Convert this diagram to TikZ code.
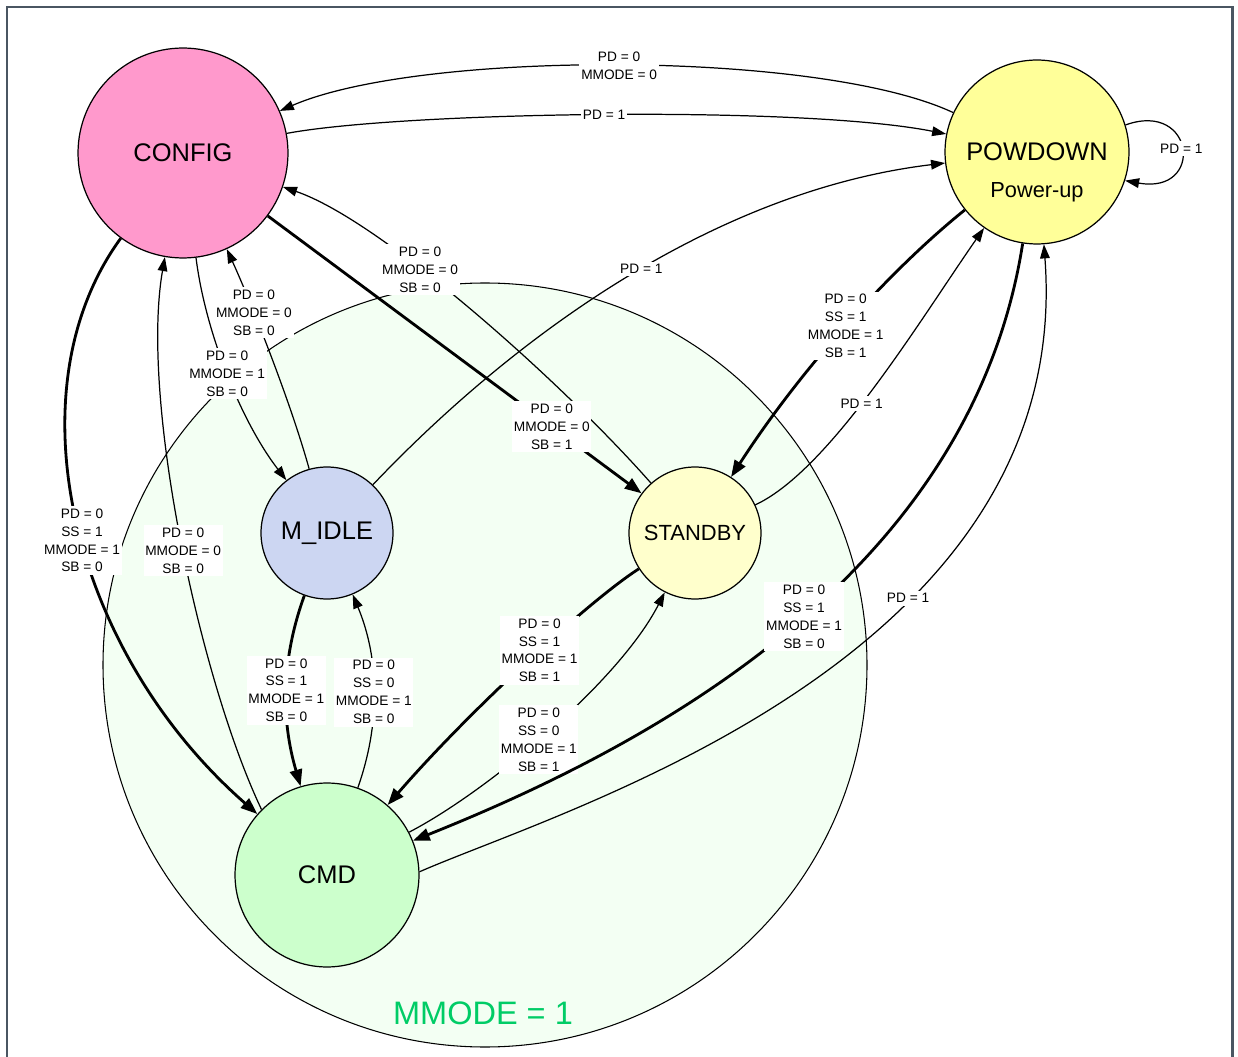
\documentclass[tikz,border=0pt]{standalone}
\usepackage{fontspec}
\setmainfont{Liberation Sans}
\usetikzlibrary{arrows.meta}
\definecolor{cfgpink}{RGB}{255,153,204}
\definecolor{pdyellow}{RGB}{255,255,153}
\definecolor{sbyellow}{RGB}{255,255,204}
\definecolor{idleblue}{RGB}{204,214,242}
\definecolor{cmdgreen}{RGB}{204,255,204}
\definecolor{mmfill}{RGB}{243,255,243}
\definecolor{mmtext}{RGB}{0,204,102}
\definecolor{framegray}{RGB}{74,86,98}
\tikzset{st/.style = {draw, circle, line width = 0.7pt, inner sep = 0, font = \fontsize{14.5}{16}\selectfont}}
\tikzset{lbl/.style = {fill = white, inner xsep = 1pt, inner ysep = 1.5pt, align = center, font = \fontsize{7.8}{10.2}\selectfont}}
\tikzset{tr/.style = {line width = 0.7pt, -{Triangle[length = 8pt, width = 5.5pt]}}}
\tikzset{trthick/.style = {line width = 1.6pt, -{Triangle[length = 9.5pt, width = 7pt]}}}

\begin{document}
\begin{tikzpicture}[x = 0.02cm, y = -0.02cm]
      \useasboundingbox (0, 0) rectangle (1238, 1057);
      \draw [framegray, line width = 1.7pt] (7, 1057) -- (7, 7) -- (1232, 7) -- (1232, 1057);

      % MMODE = 1 cluster
      \draw [fill = mmfill, line width = 0.6pt] (485, 665) circle [radius = 382];
      \node [text = mmtext, font = \fontsize{18.5}{20}\selectfont] (mmlabel) at (483, 1013) {MMODE = 1};

      % states
      \node [st, fill = cfgpink, minimum size = 4.2cm] (config) at (183, 153) {CONFIG};
      \node [st, fill = pdyellow, minimum size = 3.68cm] (powdown) at (1037, 152) {POWDOWN};
      \node [font = \fontsize{12.4}{14}\selectfont] (powerup) at (1037, 192) {Power-up};
      \node [st, fill = idleblue, minimum size = 2.64cm] (midle) at (327, 533) {M\_IDLE};
      \node [st, fill = sbyellow, minimum size = 2.64cm, font = \fontsize{12.5}{14}\selectfont] (standby) at (695, 533) {STANDBY};
      \node [st, fill = cmdgreen, minimum size = 3.68cm] (cmd) at (327, 875) {CMD};

      % transitions
      \draw [tr] (powdown) .. controls (820, 50) and (420, 50) .. node [lbl] (l1) {PD = 0\\MMODE = 0} (config);
      \draw [tr] (config) .. controls (400, 112) and (800, 105) .. node [lbl] (l2) {PD = 1} (powdown);
      \draw [tr] (powdown.17) .. controls (1195, 100) and (1205, 195) .. node [lbl] (l3) {PD = 1} (powdown.-18);
      \draw [tr] (midle) .. controls (520, 330) and (720, 190) .. node [lbl, pos = 0.52] (l4) {PD = 1} (powdown);
      \draw [tr] (standby) .. controls (560, 380) and (380, 220) .. node [lbl, pos = 0.62] (l5) {PD = 0\\MMODE = 0\\SB = 0} (config);
      \draw [trthick] (config) -- node [lbl, pos = 0.76] (l6) {PD = 0\\MMODE = 0\\SB = 1} (standby);
      \draw [tr] (midle) .. controls (290, 400) and (250, 300) .. node [lbl, pos = 0.67] (l7) {PD = 0\\MMODE = 0\\SB = 0} (config);
      \draw [tr] (config) .. controls (205, 330) and (240, 420) .. node [lbl] (l8) {PD = 0\\MMODE = 1\\SB = 0} (midle);
      \draw [trthick] (config) .. controls (10, 390) and (70, 650) .. node [lbl, pos = 0.53] (l9) {PD = 0\\SS = 1\\MMODE = 1\\SB = 0} (cmd);
      \draw [tr] (cmd.135) .. controls (200, 680) and (140, 400) .. node [lbl, pos = 0.48] (l10) {PD = 0\\MMODE = 0\\SB = 0} (config);
      \draw [trthick] (midle) .. controls (281, 660) and (281, 720) .. node [lbl] (l11) {PD = 0\\SS = 1\\MMODE = 1\\SB = 0} (cmd);
      \draw [tr] (cmd) .. controls (380, 725) and (380, 660) .. node [lbl] (l12) {PD = 0\\SS = 0\\MMODE = 1\\SB = 0} (midle);
      \draw [trthick] (standby) .. controls (590, 600) and (470, 710) .. node [lbl, pos = 0.45] (l13) {PD = 0\\SS = 1\\MMODE = 1\\SB = 1} (cmd);
      \draw [tr] (cmd) .. controls (490, 790) and (620, 680) .. node [lbl, pos = 0.46] (l14) {PD = 0\\SS = 0\\MMODE = 1\\SB = 1} (standby);
      \draw [trthick] (powdown) .. controls (890, 270) and (800, 370) .. node [lbl] (l15) {PD = 0\\SS = 1\\MMODE = 1\\SB = 1} (standby);
      \draw [tr] (standby) .. controls (830, 470) and (920, 320) .. node [lbl, pos = 0.45] (l16) {PD = 1} (powdown);
      \draw [trthick] (powdown) .. controls (970, 580) and (640, 750) .. node [lbl, pos = 0.47] (l17) {PD = 0\\SS = 1\\MMODE = 1\\SB = 0} (cmd);
      \draw [tr] (cmd.2) .. controls (560, 810) and (1075, 660) .. node [lbl, pos = 0.64] (l18) {PD = 1} (powdown);
    \end{tikzpicture}
\end{document}
